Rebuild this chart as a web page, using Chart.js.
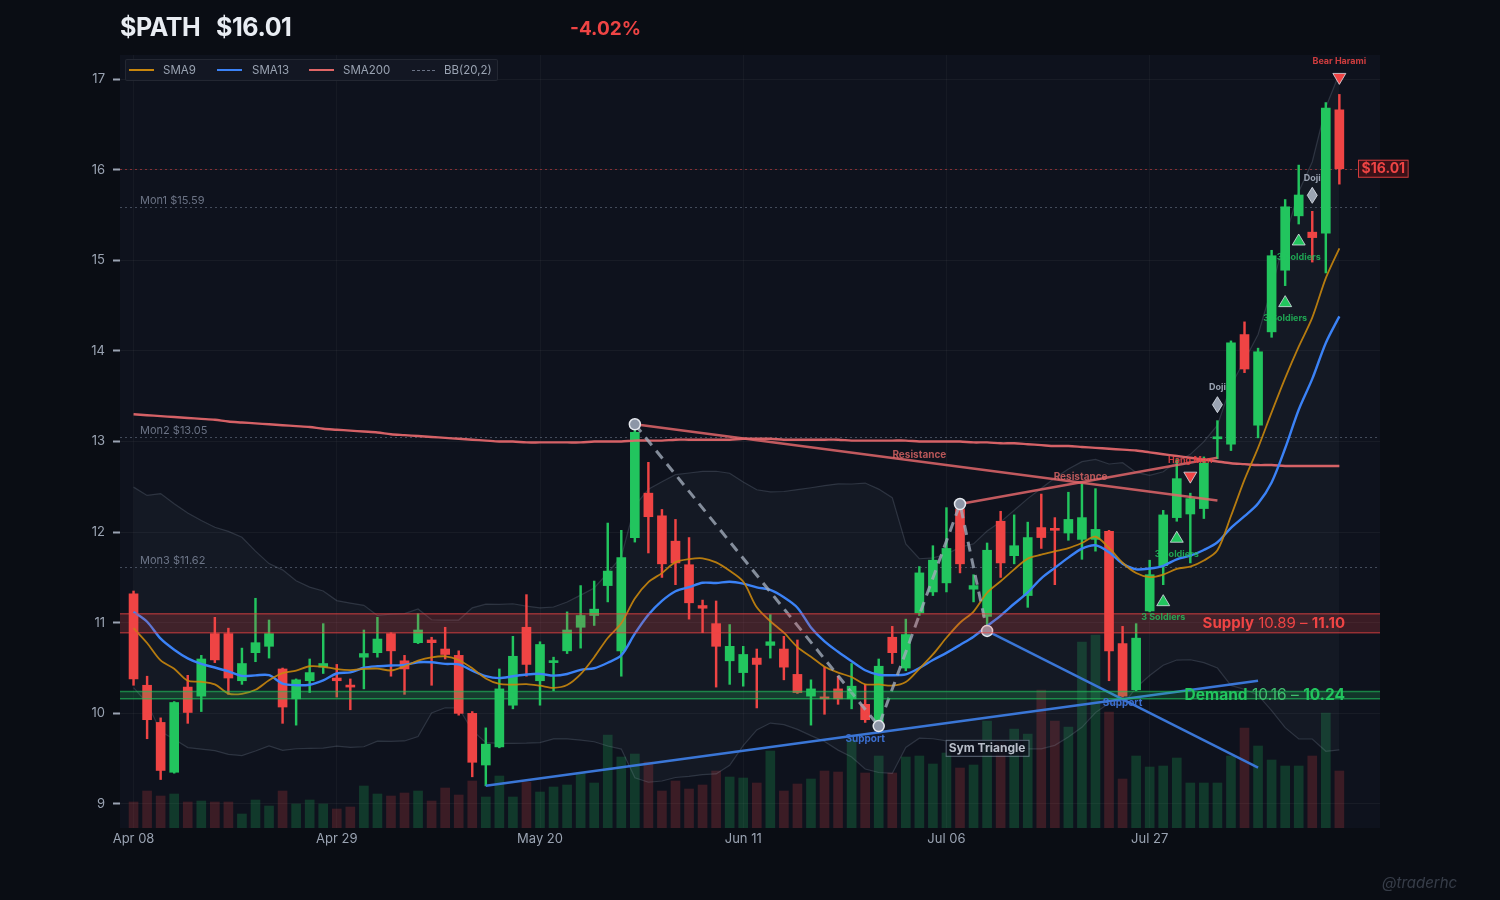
<!DOCTYPE html>
<html>
<head>
<meta charset="utf-8">
<script src="https://cdn.jsdelivr.net/npm/chart.js@4.4.1/dist/chart.umd.min.js"></script>
<style>
  html, body { margin: 0; padding: 0; background: #0a0d14; width: 1500px; height: 900px; overflow: hidden;
    font-family: Inter, "Noto Sans", sans-serif; }
  #wrap { position: relative; width: 1500px; height: 900px; }
  #c { position: absolute; left: 0; top: 0; }
  .hdr { position: absolute; font-weight: 700; white-space: nowrap; line-height: 1; }
  #legend { position: absolute; left: 125px; top: 59px; width: 371px; height: 20px;
    border: 1px solid rgba(255,255,255,0.07); background: rgba(19,24,36,0.92); border-radius: 2px; }
  .lg { position: absolute; top: 3px; font-size: 11.5px; color: #9aa3b2; line-height: 14px; }
  .lm { position: absolute; top: 9px; width: 25px; height: 0; }
  #wm { position: absolute; left: 1382px; top: 873px; font-size: 15px; font-style: italic;
    color: rgba(148,163,184,0.32); }
</style>
</head>
<body>
<div id="wrap">
  <canvas id="c" width="1500" height="900"></canvas>
  <div class="hdr" style="left:120px;top:15px;font-size:25px;letter-spacing:-0.4px;color:#e9edf3">$PATH</div>
  <div class="hdr" style="left:216px;top:15px;font-size:25px;letter-spacing:-0.4px;color:#e9edf3">$16.01</div>
  <div class="hdr" style="left:570px;top:19px;font-size:19px;color:#ef4444">-4.02%</div>
  <div id="legend">
    <div class="lm" style="left:3px;border-top:2.5px solid #c8860d"></div>
    <div class="lg" style="left:37px">SMA9</div>
    <div class="lm" style="left:91px;border-top:2.5px solid #3b82f6"></div>
    <div class="lg" style="left:126px">SMA13</div>
    <div class="lm" style="left:183px;border-top:2.5px solid #e06666"></div>
    <div class="lg" style="left:217px">SMA200</div>
    <div class="lm" style="left:286px;top:10px;width:23px;border-top:1px dashed #6b7385"></div>
    <div class="lg" style="left:318px">BB(20,2)</div>
  </div>
  <div id="wm">@traderhc</div>
</div>
<script>
// ---- data ----
const tickIdx = [0, 15, 30, 45, 60, 75];
const tickLabels = ['Apr 08', 'Apr 29', 'May 20', 'Jun 11', 'Jul 06', 'Jul 27'];

const opens = [11.32,10.31,9.90,9.35,10.29,10.19,10.88,10.88,10.36,10.67,
  10.74,10.49,10.16,10.36,10.51,10.39,10.30,10.62,10.67,10.88,
  10.58,10.78,10.81,10.71,10.64,10.00,9.43,9.63,10.09,10.95,
  10.36,10.56,10.69,10.95,11.08,11.41,10.69,11.94,12.43,12.18,
  11.90,11.64,11.19,10.99,10.58,10.45,10.61,10.75,10.71,10.43,
  10.19,10.17,10.27,10.16,10.10,9.91,10.84,10.50,11.11,11.34,
  11.44,12.25,11.37,11.07,12.12,11.74,11.30,12.05,12.04,11.99,
  11.92,11.92,12.01,10.77,10.26,11.13,11.63,12.16,12.20,12.26,
  13.03,12.97,14.18,13.18,14.21,14.89,15.49,15.31,15.30,16.66];
const highs = [11.35,10.41,9.95,10.13,10.42,10.64,11.06,10.94,10.72,11.27,
  11.03,10.50,10.38,10.60,10.99,10.54,10.38,10.92,11.06,10.89,
  10.64,11.10,10.84,10.95,10.69,10.02,9.84,10.49,10.85,11.31,
  10.79,10.62,11.12,11.41,11.46,12.10,12.02,13.19,12.77,12.25,
  12.14,11.94,11.25,11.24,10.98,10.74,10.71,11.09,10.85,10.81,
  10.37,10.51,10.41,10.55,10.32,10.60,10.96,11.04,11.62,11.85,
  12.27,12.31,11.53,11.88,12.23,12.19,12.11,12.42,12.16,12.44,
  12.53,12.48,12.02,10.96,10.99,11.69,12.24,12.80,12.43,12.83,
  13.23,14.11,14.32,14.03,15.11,15.67,16.05,15.54,16.74,16.83];
const lows = [10.31,9.72,9.27,9.34,9.89,10.02,10.56,10.21,10.32,10.57,
  10.61,9.89,9.87,10.23,10.44,10.18,10.04,10.27,10.62,10.41,
  10.21,10.77,10.31,10.60,9.98,9.30,9.20,9.62,10.05,10.41,
  10.09,10.25,10.66,10.72,10.97,11.23,10.41,11.89,11.77,11.50,
  11.42,11.04,10.89,10.29,10.32,10.30,10.06,10.61,10.37,10.22,
  9.87,9.99,10.10,10.05,9.90,9.86,10.55,10.47,11.08,11.30,
  11.34,11.55,11.23,10.91,11.50,11.65,11.17,11.82,11.42,11.91,
  11.70,11.79,10.36,10.18,10.25,11.12,11.42,12.12,11.66,12.15,
  12.81,12.90,13.76,13.04,14.15,14.72,15.40,14.98,14.86,15.84];
const closes = [10.38,9.93,9.37,10.12,10.01,10.60,10.59,10.39,10.55,10.78,
  10.88,10.07,10.37,10.45,10.55,10.36,10.29,10.66,10.82,10.69,
  10.49,10.92,10.78,10.65,10.00,9.46,9.66,10.27,10.63,10.54,
  10.76,10.57,10.92,11.08,11.15,11.57,11.72,13.10,12.17,11.65,
  11.66,11.22,11.16,10.74,10.74,10.65,10.54,10.79,10.51,10.23,
  10.27,10.16,10.16,10.30,9.93,10.52,10.67,10.87,11.55,11.69,
  11.82,11.65,11.41,11.80,11.66,11.85,11.94,11.94,12.02,12.14,
  12.16,12.03,10.69,10.19,10.83,11.53,12.19,12.59,12.37,12.76,
  13.05,14.09,13.80,13.99,15.05,15.59,15.72,15.25,16.68,16.01];
const volumes = [1.3,1.85,1.6,1.7,1.3,1.35,1.3,1.3,0.7,1.4,
  1.1,1.85,1.2,1.4,1.2,0.95,1.05,2.1,1.7,1.6,
  1.75,1.85,1.35,2.0,1.65,2.35,1.55,2.6,1.55,2.3,
  1.8,2.05,2.15,2.75,2.25,4.65,3.55,3.7,3.3,1.85,
  2.35,1.95,2.15,2.85,2.55,2.5,2.25,3.85,1.85,2.2,
  2.45,2.85,2.8,4.4,2.75,3.6,2.75,3.55,3.6,3.2,
  3.75,3.0,3.15,5.35,4.3,4.95,4.7,6.9,5.35,5.05,
  9.3,9.65,5.8,2.45,3.6,3.05,3.1,3.5,2.25,2.25,
  2.25,3.6,5.0,4.1,3.4,3.1,3.1,3.6,5.75,2.85];
// SMA200 has no visible history window, so it is read off the picture
const sma200 = [13.30,13.29,13.28,13.27,13.26,13.25,13.24,13.22,13.21,13.20,
  13.19,13.18,13.17,13.16,13.14,13.13,13.12,13.11,13.10,13.08,
  13.07,13.06,13.05,13.04,13.03,13.02,13.01,13.00,13.00,12.99,
  12.99,12.99,12.99,12.99,13.00,13.00,13.00,13.01,13.01,13.01,
  13.02,13.02,13.02,13.02,13.02,13.03,13.03,13.03,13.02,13.02,
  13.02,13.02,13.02,13.01,13.01,13.01,13.01,13.01,13.00,13.00,
  13.00,13.00,12.99,12.99,12.98,12.98,12.97,12.96,12.95,12.95,
  12.94,12.93,12.92,12.91,12.90,12.88,12.86,12.84,12.82,12.80,
  12.78,12.76,12.75,12.74,12.74,12.73,12.73,12.73,12.73,12.73];
// closes before Apr 08, estimated so the SMA9/13 and BB start where the picture does
const priorCloses = [12.55,12.30,12.10,11.95,11.60,11.50,11.24,11.35,11.80,11.70,
  11.25,11.40,11.10,10.95,11.20,10.70,10.85,11.30,10.58];

const supplyZone = [10.89, 11.10];
const demandZone = [10.16, 10.24];
const monLevels = [15.59, 13.05, 11.62];
const monNames = ['Mon1', 'Mon2', 'Mon3'];
const lastPrice = 16.01;

const pivotIdx = [37, 55, 61, 63];
const pivotVal = [13.19, 9.86, 12.31, 10.91];
const resistA = [[37, 13.19], [80, 12.35]];
const resistB = [[61, 12.31], [80, 12.82]];
const supportA = [[26, 9.20], [83, 10.36]];
const supportB = [[63, 10.91], [83, 9.40]];

const patIdx  = [76, 77, 78, 80, 85, 86, 87, 89];
const patName = ['3 Soldiers', '3 Soldiers', 'Hang Man', 'Doji', '3 Soldiers', '3 Soldiers', 'Doji', 'Bear Harami'];
const patKind = ['bull', 'bull', 'bear', 'doji', 'bull', 'bull', 'doji', 'bear'];

// ---- indicators ----
const allCloses = priorCloses.concat(closes);
const P = priorCloses.length;
function windowAt(n, i) { return allCloses.slice(P + i - n + 1, P + i + 1); }
function mean(a) { return a.reduce((s, v) => s + v, 0) / a.length; }
const sma9 = closes.map((c, i) => ({x: i, y: mean(windowAt(9, i))}));
const sma13 = closes.map((c, i) => ({x: i, y: mean(windowAt(13, i))}));
const bbUp = [], bbLo = [];
closes.forEach((c, i) => {
  const w = windowAt(20, i), m = mean(w);
  const sd = Math.sqrt(w.reduce((s, v) => s + (v - m) * (v - m), 0) / w.length);
  bbUp.push({x: i, y: m + 2 * sd});
  bbLo.push({x: i, y: m - 2 * sd});
});

const GREEN = '#22c55e', RED = '#ef4444';
const isUp = closes.map((c, i) => c >= opens[i]);
const pts = (arr) => arr.map(p => ({x: p[0], y: p[1]}));

function triangle(ctx, x, y, up, fill) {
  ctx.beginPath();
  if (up) { ctx.moveTo(x, y - 6); ctx.lineTo(x + 6.5, y + 5); ctx.lineTo(x - 6.5, y + 5); }
  else { ctx.moveTo(x, y + 6); ctx.lineTo(x + 6.5, y - 5); ctx.lineTo(x - 6.5, y - 5); }
  ctx.closePath();
  ctx.fillStyle = fill; ctx.fill();
  ctx.strokeStyle = 'rgba(225,230,238,0.75)'; ctx.lineWidth = 1; ctx.stroke();
}
function diamond(ctx, x, y) {
  ctx.beginPath();
  ctx.moveTo(x, y - 8); ctx.lineTo(x + 5, y); ctx.lineTo(x, y + 8); ctx.lineTo(x - 5, y);
  ctx.closePath();
  ctx.fillStyle = '#9aa3b2'; ctx.fill();
  ctx.strokeStyle = 'rgba(225,230,238,0.8)'; ctx.lineWidth = 1; ctx.stroke();
}

const overlay = {
  id: 'overlay',
  beforeDraw(chart) {
    const {ctx, chartArea: a} = chart;
    ctx.save();
    ctx.fillStyle = '#0a0d14';
    ctx.fillRect(0, 0, chart.width, chart.height);
    ctx.fillStyle = '#0e121d';
    ctx.fillRect(a.left, a.top, a.right - a.left, a.bottom - a.top);
    ctx.restore();
  },
  beforeDatasetsDraw(chart) {
    const {ctx, chartArea: a, scales: {y}} = chart;
    ctx.save();
    ctx.lineWidth = 1;
    ctx.setLineDash([2, 3]);
    monLevels.forEach((v, k) => {
      const py = Math.round(y.getPixelForValue(v)) + 0.5;
      ctx.strokeStyle = 'rgba(148,163,184,0.4)';
      ctx.beginPath(); ctx.moveTo(a.left, py); ctx.lineTo(a.right, py); ctx.stroke();
      ctx.fillStyle = '#6b7385';
      ctx.font = '11px Inter, sans-serif';
      ctx.textBaseline = 'bottom';
      ctx.fillText(monNames[k] + ' $' + v.toFixed(2), a.left + 20, py - 1);
    });
    const lp = Math.round(y.getPixelForValue(lastPrice)) + 0.5;
    ctx.strokeStyle = 'rgba(239,68,68,0.5)';
    ctx.beginPath(); ctx.moveTo(a.left, lp); ctx.lineTo(a.right, lp); ctx.stroke();
    ctx.restore();
  },
  afterDatasetsDraw(chart) {
    const {ctx, chartArea: a, scales: {x, y}} = chart;
    ctx.save();
    // supply / demand zones
    const zone = (z, fill, line) => {
      const y1 = y.getPixelForValue(z[1]), y0 = y.getPixelForValue(z[0]);
      ctx.fillStyle = fill;
      ctx.fillRect(a.left, y1, a.right - a.left, y0 - y1);
      ctx.strokeStyle = line; ctx.lineWidth = 1.5;
      ctx.beginPath(); ctx.moveTo(a.left, y1); ctx.lineTo(a.right, y1);
      ctx.moveTo(a.left, y0); ctx.lineTo(a.right, y0); ctx.stroke();
      return (y0 + y1) / 2;
    };
    const sy = zone(supplyZone, 'rgba(239,68,68,0.2)', 'rgba(239,68,68,0.55)');
    const dy = zone(demandZone, 'rgba(34,197,94,0.2)', 'rgba(34,197,94,0.6)');
    const zoneLabel = (parts, py, color, size) => {
      ctx.textBaseline = 'middle';
      let xr = a.right - 35;
      for (let k = parts.length - 1; k >= 0; k--) {
        ctx.font = parts[k][1] + ' ' + size + 'px Inter, sans-serif';
        const w = ctx.measureText(parts[k][0]).width;
        ctx.fillStyle = parts[k][2] || color;
        ctx.fillText(parts[k][0], xr - w, py);
        xr -= w;
      }
    };
    zoneLabel([['Supply', '700'], [' 10.89 \u2013 ', '400'], ['11.10', '700']], sy, RED, 15);
    zoneLabel([['Demand', '700'], [' 10.16 \u2013 ', '400', '#3fbf6e'], ['10.24', '700']], dy, GREEN, 15.5);

    // trend labels
    ctx.textAlign = 'center'; ctx.textBaseline = 'middle';
    ctx.font = '700 10px Inter, sans-serif';
    ctx.fillStyle = 'rgba(224,102,102,0.8)';
    ctx.fillText('Resistance', x.getPixelForValue(58), y.getPixelForValue(12.85));
    ctx.fillText('Resistance', x.getPixelForValue(69.9), y.getPixelForValue(12.61));
    ctx.fillStyle = '#3b6fd0';
    ctx.fillText('Support', x.getPixelForValue(54), y.getPixelForValue(9.72));
    ctx.fillText('Support', x.getPixelForValue(73), y.getPixelForValue(10.11));
    // sym triangle tag
    const tx = x.getPixelForValue(63), ty = y.getPixelForValue(9.62);
    ctx.font = '700 12px Inter, sans-serif';
    const tw = ctx.measureText('Sym Triangle').width + 6;
    ctx.fillStyle = 'rgba(14,18,29,0.85)';
    ctx.fillRect(tx - tw / 2, ty - 8, tw, 16);
    ctx.strokeStyle = 'rgba(148,163,184,0.6)'; ctx.lineWidth = 1;
    ctx.strokeRect(tx - tw / 2 + 0.5, ty - 7.5, tw, 16);
    ctx.fillStyle = '#b8bec9';
    ctx.fillText('Sym Triangle', tx, ty + 0.5);

    // candle pattern markers
    patIdx.forEach((i, k) => {
      const px = x.getPixelForValue(i);
      const kind = patKind[k];
      ctx.font = '700 9px Inter, sans-serif';
      if (kind === 'bull') {
        const py = y.getPixelForValue(lows[i]);
        triangle(ctx, px, py + 16, true, GREEN);
        ctx.fillStyle = 'rgba(34,197,94,0.8)';
        ctx.fillText(patName[k], px, py + 33);
      } else {
        const py = y.getPixelForValue(highs[i]);
        if (kind === 'doji') { diamond(ctx, px, py - 16); ctx.fillStyle = '#9aa3b2'; }
        else { triangle(ctx, px, py - 16, false, RED); ctx.fillStyle = 'rgba(239,68,68,0.85)'; }
        ctx.fillText(patName[k], px, py - 33);
      }
    });

    // last price tag
    const lp = y.getPixelForValue(lastPrice);
    const bx = a.right - 22;
    ctx.font = '700 14px Inter, sans-serif';
    const bw = ctx.measureText('$16.01').width + 6;
    ctx.fillStyle = 'rgba(60,18,24,0.95)';
    ctx.fillRect(bx, lp - 9, bw, 18);
    ctx.strokeStyle = 'rgba(239,68,68,0.85)'; ctx.lineWidth = 1;
    ctx.strokeRect(bx + 0.5, lp - 8.5, bw, 17);
    ctx.fillStyle = RED;
    ctx.textAlign = 'left';
    ctx.fillText('$' + lastPrice.toFixed(2), bx + 3.5, lp + 0.5);
    ctx.restore();
  }
};

Chart.defaults.font.family = 'Inter, "Noto Sans", sans-serif';

new Chart(document.getElementById('c'), {
  type: 'bar',
  data: {
    datasets: [
      { label: 'vol', yAxisID: 'yv', order: 10, grouped: false, barThickness: 9,
        data: volumes.map((v, i) => ({x: i, y: v})),
        backgroundColor: isUp.map(u => u ? 'rgba(34,197,94,0.22)' : 'rgba(239,68,68,0.2)') },
      { type: 'line', label: 'BB up', order: 9, data: bbUp, borderColor: 'rgba(148,163,184,0.22)',
        borderWidth: 1.2, pointRadius: 0, tension: 0, fill: '+1', backgroundColor: 'rgba(160,174,200,0.045)' },
      { type: 'line', label: 'BB lo', order: 9, data: bbLo, borderColor: 'rgba(148,163,184,0.22)',
        borderWidth: 1.2, pointRadius: 0, tension: 0, fill: false },
      { label: 'wick', order: 8, grouped: false, barThickness: 1.8,
        data: lows.map((l, i) => ({x: i, y: [l, highs[i]]})),
        backgroundColor: isUp.map(u => u ? GREEN : RED) },
      { label: 'body', order: 7, grouped: false, barThickness: 9, minBarLength: 2,
        data: opens.map((o, i) => ({x: i, y: [o, closes[i]]})),
        backgroundColor: isUp.map(u => u ? GREEN : RED) },
      { type: 'line', label: 'SMA200', order: 6, data: sma200.map((v, i) => ({x: i, y: v})),
        borderColor: 'rgba(224,102,106,0.95)', borderWidth: 2.4, pointRadius: 0, tension: 0.3 },
      { type: 'line', label: 'SMA13', order: 5, data: sma13, borderColor: '#3b82f6',
        borderWidth: 2.4, pointRadius: 0, tension: 0.3 },
      { type: 'line', label: 'SMA9', order: 4, data: sma9, borderColor: 'rgba(200,134,13,0.9)',
        borderWidth: 1.8, pointRadius: 0, tension: 0.3 },
      { type: 'line', label: 'resA', order: 3, data: pts(resistA), borderColor: 'rgba(224,102,106,0.85)',
        borderWidth: 2.5, pointRadius: 0 },
      { type: 'line', label: 'resB', order: 3, data: pts(resistB), borderColor: 'rgba(224,102,106,0.85)',
        borderWidth: 2.5, pointRadius: 0 },
      { type: 'line', label: 'supA', order: 3, data: pts(supportA), borderColor: '#3a76d6',
        borderWidth: 2.5, pointRadius: 0 },
      { type: 'line', label: 'supB', order: 3, data: pts(supportB), borderColor: '#3a76d6',
        borderWidth: 2.5, pointRadius: 0 },
      { type: 'line', label: 'zigzag', order: 2, data: pivotIdx.map((i, k) => ({x: i, y: pivotVal[k]})),
        borderColor: 'rgba(160,170,185,0.8)', borderWidth: 3, borderDash: [10, 7],
        pointRadius: 5.5, pointBackgroundColor: '#8d96a7', pointBorderColor: '#e5e8ee', pointBorderWidth: 1.5 }
    ]
  },
  options: {
    responsive: false,
    animation: false,
    events: [],
    layout: { padding: { top: 55, right: 120, left: 0, bottom: 0 } },
    plugins: { legend: { display: false }, tooltip: { enabled: false } },
    scales: {
      x: {
        type: 'linear', min: -1, max: 92, offset: false,
        afterFit: (s) => { s.height = 72; },
        afterBuildTicks: (s) => { s.ticks = tickIdx.map(v => ({value: v})); },
        ticks: { autoSkip: false, maxRotation: 0, padding: 3, color: '#9aa3b2', font: { size: 13 },
          callback: (v) => tickLabels[tickIdx.indexOf(v)] },
        grid: { color: 'rgba(255,255,255,0.035)', drawTicks: false, offset: false },
        border: { display: false }
      },
      y: {
        position: 'left', min: 8.735, max: 17.265,
        afterFit: (s) => { s.width = 120; },
        ticks: { stepSize: 1, includeBounds: false, color: '#9aa3b2', font: { size: 13 }, padding: 8 },
        grid: { color: 'rgba(255,255,255,0.045)', tickColor: '#9aa3b2', tickLength: 7, tickWidth: 2 },
        border: { display: false }
      },
      yv: { display: false, min: 0, max: 38.65 }
    }
  },
  plugins: [overlay]
});
</script>
</body>
</html>
